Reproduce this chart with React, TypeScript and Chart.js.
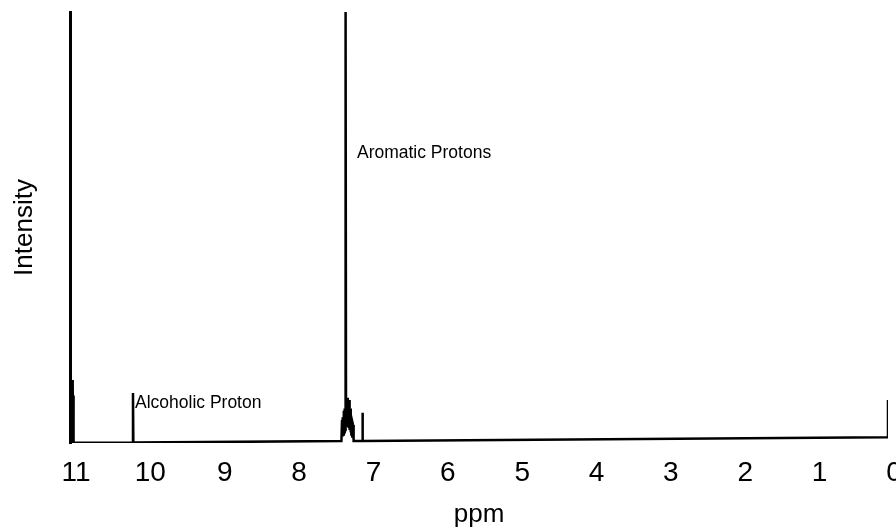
import React, { useEffect, useRef } from 'react';
import { Chart, registerables } from 'chart.js';

Chart.register(...registerables);

// Spectrum trace (chemical shift in ppm, relative intensity)
const ppm = [
  11.0, 10.975, 10.97, 10.966, 10.962, 10.958, 10.954, 10.95,
  10.158, 10.153, 10.148,
  7.35, 7.342, 7.336, 7.33, 7.324, 7.318, 7.312, 7.306, 7.3, 7.294, 7.288, 7.282,
  7.276, 7.27, 7.264, 7.258, 7.252, 7.246, 7.24, 7.234, 7.228, 7.222, 7.216, 7.21,
  7.204, 7.198, 7.194, 7.186,
  7.072, 7.067, 7.062,
  0.01, 0.0, 0.0,
];
const intensity = [
  0, 0, 14.6, 6, 13, 5, 11, 0.05,
  0.1, 11.6, 0.1,
  0.44, 5.3, 1.5, 6, 2, 7.5, 2.5, 8, 3, 100, 4, 9.5,
  4, 10.5, 4, 9, 3.5, 10, 3, 8, 2.5, 6.5, 2, 5.5,
  1.5, 4.5, 4.2, 0.45,
  0.47, 7, 0.47,
  1.32, 1.32, 10,
];

const xTickValues = [11, 10, 9, 8, 7, 6, 5, 4, 3, 2, 1, 0];
const xTickLabels = ['11', '10', '9', '8', '7', '6', '5', '4', '3', '2', '1', '0'];

const annotationTexts = ['Alcoholic Proton', 'Aromatic Protons'];
const annotationPpm = [10.126, 7.141];
const annotationIntensity = [8.1, 66.1];

const FONT = '"Liberation Sans", Arial, Helvetica, sans-serif';

export default function App() {
  const ref = useRef<HTMLCanvasElement>(null);

  useEffect(() => {
    document.body.style.margin = '0';
    Chart.defaults.font.family = FONT;

    const labelPlugin = {
      id: 'peakLabels',
      afterDatasetsDraw(chart: any) {
        const { ctx, scales } = chart;
        const x = scales.x;
        const y = scales.y;
        ctx.save();
        ctx.fillStyle = '#000';
        ctx.font = `17.5px ${FONT}`;
        ctx.textAlign = 'left';
        ctx.textBaseline = 'alphabetic';
        annotationTexts.forEach((t, i) => {
          ctx.fillText(t, x.getPixelForValue(annotationPpm[i]), y.getPixelForValue(annotationIntensity[i]));
        });
        ctx.restore();
      },
    };

    const chart = new Chart(ref.current as HTMLCanvasElement, {
      type: 'line',
      data: {
        datasets: [
          {
            data: ppm.map((p, i) => ({ x: p, y: intensity[i] })),
            borderColor: '#000',
            borderWidth: 2.5,
            pointRadius: 0,
            tension: 0,
            fill: false,
          },
        ],
      },
      options: {
        responsive: false,
        animation: false,
        layout: { padding: { top: 12, right: 8, left: 0, bottom: 0 } },
        plugins: { legend: { display: false }, tooltip: { enabled: false } },
        scales: {
          x: {
            type: 'linear',
            reverse: true,
            min: 0,
            max: 11,
            afterBuildTicks: (s: any) => {
              s.ticks = xTickValues.map((v) => ({ value: v }));
            },
            afterFit: (s: any) => {
              s.height = 88;
              s.paddingLeft = 0;
              s.paddingRight = 0;
            },
            grid: { display: false, drawTicks: false },
            border: { display: false },
            ticks: {
              callback: (_v: any, i: number) => xTickLabels[i],
              font: { size: 28 },
              color: '#000',
              padding: 13,
              labelOffset: 6,
              maxRotation: 0,
              autoSkip: false,
            },
            title: {
              display: true,
              text: 'ppm',
              font: { size: 26 },
              color: '#000',
              padding: { top: 0, bottom: 1 },
            },
          },
          y: {
            min: 0,
            max: 100,
            afterFit: (s: any) => {
              s.width = 70;
              s.paddingTop = 0;
              s.paddingBottom = 0;
            },
            grid: { display: false, drawTicks: false },
            border: { display: true, color: '#000', width: 3 },
            ticks: { display: false },
            title: {
              display: true,
              text: 'Intensity',
              font: { size: 26 },
              color: '#000',
              padding: { top: 9, bottom: 0 },
            },
          },
        },
      },
      plugins: [labelPlugin],
    });

    return () => chart.destroy();
  }, []);

  return (
    <div style={{ width: 896, height: 531 }}>
      <canvas ref={ref} width={896} height={531} />
    </div>
  );
}
